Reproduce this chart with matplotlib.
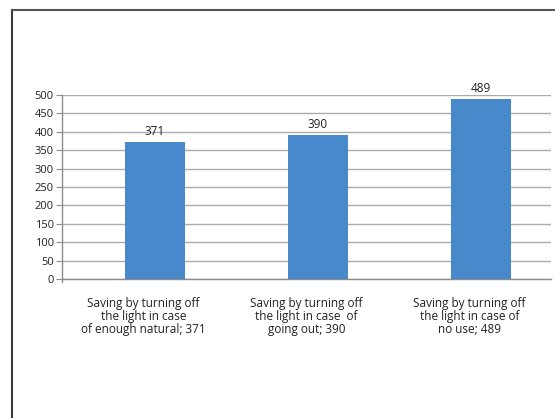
import matplotlib as mpl
mpl.use('Agg')
import matplotlib.pyplot as plt
import numpy as np
from matplotlib.lines import Line2D

# data
categories = ['Saving by turning off\nthe light in case\nof enough natural; 371',
              'Saving by turning off\nthe light in case  of\ngoing out; 390',
              'Saving by turning off\nthe light in case of\nno use; 489']
values = [371, 390, 489]
yticks = [0, 50, 100, 150, 200, 250, 300, 350, 400, 450, 500]

plt.rcParams['font.family'] = ['Open Sans', 'DejaVu Sans']

fig = plt.figure(figsize=(5.55, 4.18), dpi=100)
ax = fig.add_axes([0.1117, 0.3325, 0.8811, 0.4402])

x = np.arange(len(values))
bars = ax.bar(x + 0.07, values, width=0.37, color='#4889cb', zorder=3)
for b, v in zip(bars, values):
    ax.annotate(str(v), (b.get_x() + b.get_width() / 2, v), xytext=(0, 3),
                textcoords='offset points', ha='center', va='bottom',
                fontsize=8.5, color='#222222')

ax.set_xlim(-0.5, 2.5)
ax.set_ylim(0, 500)
ax.set_yticks(yticks)
ax.set_yticklabels([str(t) for t in yticks], fontsize=8, color='#222222')
ax.set_xticks(x)
ax.set_xticklabels(categories, fontsize=8.5, color='#222222', linespacing=1.0)
ax.tick_params(axis='x', length=0, pad=13)
ax.tick_params(axis='y', length=4, color='#8c8c8c', pad=2)
ax.grid(axis='y', color='#ababab', linewidth=1, zorder=0)
for s in ['top', 'right']:
    ax.spines[s].set_visible(False)
for s in ['left', 'bottom']:
    ax.spines[s].set_color('#8c8c8c')
    ax.spines[s].set_linewidth(1)

# small tick at left end of x axis
ax.add_line(Line2D([-0.5, -0.5], [0, -0.018], transform=ax.get_xaxis_transform(),
                   color='#8c8c8c', lw=1, clip_on=False))

# outer frame (left and top)
fig.add_artist(Line2D([11.5 / 555, 11.5 / 555], [0, 1 - 10 / 418], color='#3a3a3a', lw=1.5))
fig.add_artist(Line2D([11.5 / 555, 1], [1 - 10 / 418, 1 - 10 / 418], color='#555555', lw=1.5))

fig.savefig('out.png', dpi=100)
